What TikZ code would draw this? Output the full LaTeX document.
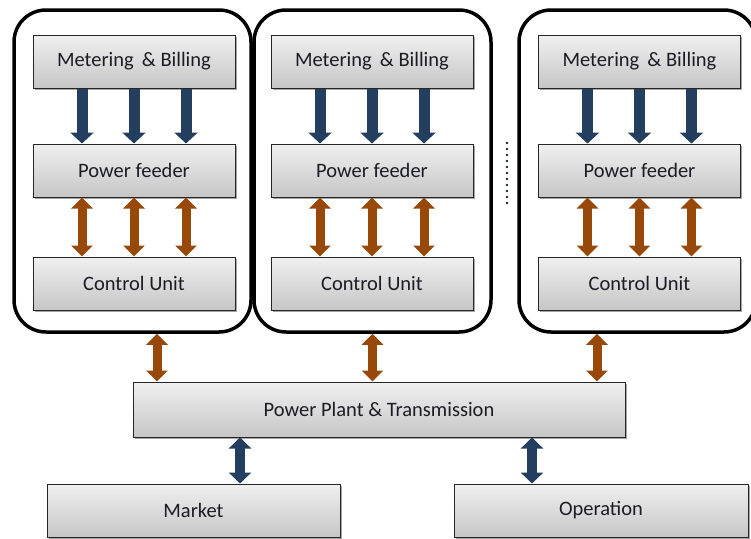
\documentclass[tikz,border=0pt]{standalone}
\usepackage{fontspec}
\setmainfont{Carlito}
\usetikzlibrary{arrows.meta,shadows}
\definecolor{navy}{RGB}{36,62,96}
\definecolor{rust}{RGB}{152,72,8}
\definecolor{txt}{RGB}{28,28,38}
\definecolor{boxtop}{RGB}{240,240,240}
\definecolor{boxbot}{RGB}{198,198,198}
\tikzset{
  box/.style={draw=black!85, line width=1pt, top color=boxtop, bottom color=boxbot,
    text=txt, font=\fontsize{20.5}{24}\selectfont, inner sep=0pt,
    drop shadow={shadow xshift=1.5pt, shadow yshift=-1.5pt, opacity=0.35, fill=black}},
  group/.style={draw=black, line width=3.5pt, rounded corners=32pt, inner sep=0pt},
  bluearrow/.style={navy, line width=11pt, -{Triangle[width=23pt,length=11pt]}},
  bluedouble/.style={navy, line width=10pt, {Triangle[width=22pt,length=11pt]}-{Triangle[width=22pt,length=11pt]}},
  rustdouble/.style={rust, line width=9pt, {Triangle[width=21pt,length=11pt]}-{Triangle[width=21pt,length=11pt]}},
}
\begin{document}
\begin{tikzpicture}[x=1pt,y=-1pt]
\useasboundingbox (0,0) rectangle (751,538);
\fill[white] (0,0) rectangle (751,538);
% groups
\node[group, minimum width=237pt, minimum height=322pt] (g1) at (132.5,171) {};
\node[group, minimum width=237pt, minimum height=322pt] (g2) at (372.5,171) {};
\node[group, minimum width=237pt, minimum height=322pt] (g3) at (637.5,171) {};
% inner boxes
\foreach \g/\cx in {1/134, 2/372, 3/639.5}{
  \node[box, minimum width=202pt, minimum height=53pt] (m\g) at (\cx,61.5) {Metering \,\& Billing};
  \node[box, minimum width=202pt, minimum height=53pt] (p\g) at (\cx,170.5) {Power feeder};
  \node[box, minimum width=202pt, minimum height=53pt] (c\g) at (\cx,283.5) {Control Unit};
  \foreach \d in {-52,0,52}{
    \draw[bluearrow] ([xshift=\d pt]m\g.south) -- ([xshift=\d pt]p\g.north);
    \draw[rustdouble] ([xshift=\d pt]p\g.south) -- ([xshift=\d pt]c\g.north);
  }
}
% bottom row
\node[box, minimum width=492pt, minimum height=55pt] (pp) at (379,409.5) {Power Plant \& Transmission};
\node[box, minimum width=293pt, minimum height=53pt] (mk) at (193.5,510.5) {Market};
\node[box, minimum width=294pt, minimum height=53pt] (op) at (601,510.5) {Operation};
% group to plant
\path ([xshift=24.5pt]g1.south) coordinate (a1)
      (g2.south) coordinate (a2)
      ([xshift=-40.5pt]g3.south) coordinate (a3);
\foreach \i in {1,2,3}{
  \draw[rustdouble] (a\i) -- (a\i |- pp.north);
}
% plant to market / operation
\path (240,0) coordinate (bx1) (532,0) coordinate (bx2);
\draw[bluedouble] (pp.south -| bx1) -- (mk.north -| bx1);
\draw[bluedouble] (pp.south -| bx2) -- (op.north -| bx2);
% ellipsis dots
\coordinate (d1) at (507,143);
\coordinate (d2) at (507,203);
\draw[navy!60!black, line width=2.8pt, line cap=round, dash pattern=on 0pt off 6pt] (d1) -- (d2);
\end{tikzpicture}
\end{document}
